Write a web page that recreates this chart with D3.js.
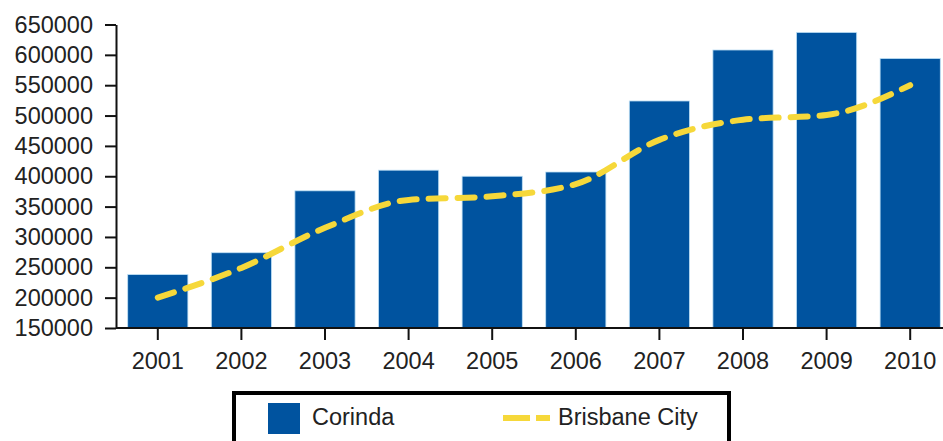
<!DOCTYPE html>
<html>
<head>
<meta charset="utf-8">
<script src="https://cdn.jsdelivr.net/npm/d3@7"></script>
<style>
  body { margin: 0; background: #fff; }
  svg { display: block; font-family: "Liberation Sans", Arial, sans-serif; }
</style>
</head>
<body>
<div id="grafico"></div>
<script>
// dados
const anos = ["2001", "2002", "2003", "2004", "2005", "2006", "2007", "2008", "2009", "2010"];
const corinda = [238000, 274000, 376000, 410000, 400000, 407000, 524000, 608000, 637000, 594000];
const brisbane = [200000, 249000, 315000, 361000, 367000, 387000, 460000, 493000, 501000, 550000];
const ticksY = [150000, 200000, 250000, 300000, 350000, 400000, 450000, 500000, 550000, 600000, 650000];
const series = ["Corinda", "Brisbane City"];

const largura = 943, altura = 441;
const azul = "#00539f", amarelo = "#f6d83a";

const svg = d3.select("#grafico").append("svg")
    .attr("width", largura)
    .attr("height", altura);

// escalas
const x = d3.scaleBand()
    .domain(anos)
    .range([116, 952])
    .paddingInner(0.28)
    .paddingOuter(0.14);

const y = d3.scaleLinear()
    .domain([150000, 650000])
    .range([328, 24.5]);

// barras
svg.append("g")
  .selectAll("rect")
  .data(anos)
  .join("rect")
    .attr("x", d => x(d))
    .attr("y", (d, i) => y(corinda[i]))
    .attr("width", x.bandwidth())
    .attr("height", (d, i) => y(150000) - y(corinda[i]))
    .attr("fill", azul)
    .attr("stroke", "#bfe0f5")
    .attr("stroke-width", 0.8);

// linha tracejada
const linha = d3.line()
    .x((d, i) => x(anos[i]) + x.bandwidth() / 2)
    .y(d => y(d))
    .curve(d3.curveMonotoneX);

svg.append("path")
    .datum(brisbane)
    .attr("d", linha)
    .attr("fill", "none")
    .attr("stroke", amarelo)
    .attr("stroke-width", 6)
    .attr("stroke-linecap", "round")
    .attr("stroke-dasharray", "17,12");

// eixo y
const eixoY = svg.append("g")
    .attr("transform", "translate(116,0)")
    .call(d3.axisLeft(y).tickValues(ticksY).tickSize(11).tickSizeOuter(0).tickFormat(d3.format("d")));

// eixo x
const eixoX = svg.append("g")
    .attr("transform", "translate(0,328)")
    .call(d3.axisBottom(x).tickSize(12).tickSizeOuter(0));
eixoX.select(".domain").attr("d", "M116,0H943");

svg.selectAll(".domain, .tick line")
    .attr("stroke", "#111")
    .attr("stroke-width", 2);
eixoY.selectAll("text")
    .attr("x", -23)
    .attr("font-size", 23.5)
    .attr("fill", "#222");
eixoX.selectAll("text")
    .attr("y", 24)
    .attr("font-size", 23.5)
    .attr("fill", "#222");

// legenda
const leg = svg.append("g");
leg.append("rect")
    .attr("x", 234).attr("y", 393)
    .attr("width", 495).attr("height", 60)
    .attr("fill", "#fff")
    .attr("stroke", "#000")
    .attr("stroke-width", 4);
leg.append("rect")
    .attr("x", 268).attr("y", 403)
    .attr("width", 32).attr("height", 31)
    .attr("fill", azul);
leg.append("text")
    .attr("x", 312).attr("y", 425)
    .attr("font-size", 23.5).attr("fill", "#222")
    .text(series[0]);
leg.append("line")
    .attr("x1", 503).attr("x2", 550)
    .attr("y1", 418).attr("y2", 418)
    .attr("stroke", amarelo)
    .attr("stroke-width", 6)
    .attr("stroke-dasharray", "27,6");
leg.append("text")
    .attr("x", 558).attr("y", 425)
    .attr("font-size", 23.5).attr("fill", "#222")
    .text(series[1]);
</script>
</body>
</html>
